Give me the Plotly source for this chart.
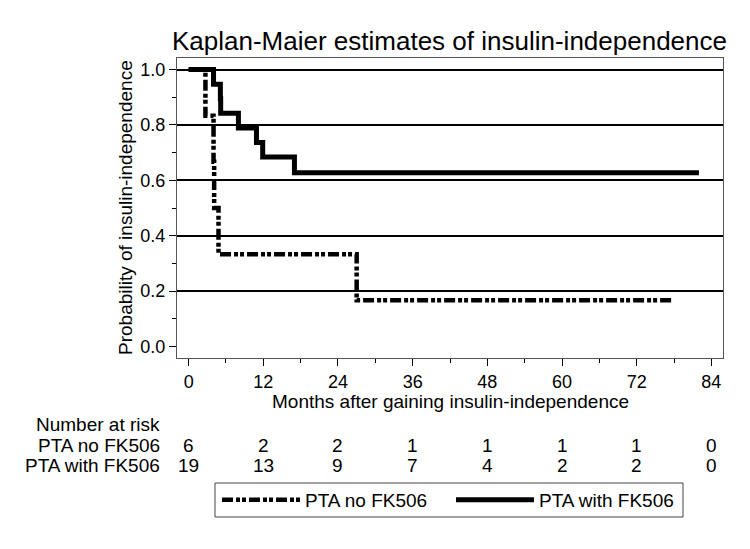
import plotly.graph_objects as go

# ---- data ----
noFK_time = [0, 2.7, 4.0, 4.1, 4.8, 27.0, 77.7]
noFK_surv = [1.0, 0.833, 0.667, 0.5, 0.333, 0.167, 0.167]
FK_time = [0, 4.0, 5.1, 5.15, 8.0, 10.9, 11.9, 17.0, 82.0]
FK_surv = [1.0, 0.947, 0.895, 0.842, 0.789, 0.737, 0.684, 0.627, 0.627]

risk_times = [0, 12, 24, 36, 48, 60, 72, 84]
risk_noFK = [6, 2, 2, 1, 1, 1, 1, 0]
risk_FK = [19, 13, 9, 7, 4, 2, 2, 0]

FONT = "Liberation Sans, Arial, sans-serif"

# page body has an 8px margin; compensate so the picture lines up with the window
OFF = 8
W, H = 750 - OFF, 549 - OFF
L, R, T, B = 177 - OFF, 27, 58 - OFF, 191
pw, ph = W - L - R, H - T - B

def px(rx):
    return (rx - OFF - L) / pw

def py(ry):
    return (H - B - (ry - OFF)) / ph

fig = go.Figure()
fig.add_trace(go.Scatter(
    x=noFK_time, y=noFK_surv, mode="lines", line_shape="hv",
    name="PTA no FK506",
    line=dict(color="black", width=4.5, dash="11px,3px,4px,2px,4px,3px"),
))
fig.add_trace(go.Scatter(
    x=FK_time, y=FK_surv, mode="lines", line_shape="hv",
    name="PTA with FK506",
    line=dict(color="black", width=5),
))

annotations = []
annotations.append(dict(text="Kaplan-Maier estimates of insulin-independence",
                        x=px(449), y=py(41), xref="paper", yref="paper",
                        xanchor="center", yanchor="middle", showarrow=False,
                        font=dict(size=26, color="black", family=FONT)))
annotations.append(dict(text="Probability of insulin-independence",
                        x=px(125), y=py(208), xref="paper", yref="paper",
                        xanchor="center", yanchor="middle", showarrow=False, textangle=-90,
                        font=dict(size=19, color="black", family=FONT)))
annotations.append(dict(text="Months after gaining insulin-independence",
                        x=px(450), y=py(401), xref="paper", yref="paper",
                        xanchor="center", yanchor="middle", showarrow=False,
                        font=dict(size=19, color="black", family=FONT)))
row_labels = [("Number at risk", 424), ("PTA no FK506", 445), ("PTA with FK506", 466)]
for txt, yy in row_labels:
    annotations.append(dict(text=txt, x=px(162), y=py(yy),
                            xref="paper", yref="paper", xanchor="right", yanchor="middle",
                            showarrow=False, font=dict(size=19, color="black", family=FONT)))
for vals, yy in [(risk_noFK, 445), (risk_FK, 466)]:
    for t, v in zip(risk_times, vals):
        annotations.append(dict(text=str(v), x=t, y=py(yy), xref="x", yref="paper",
                                xanchor="center", yanchor="middle", showarrow=False,
                                font=dict(size=19, color="black", family=FONT)))

shapes = [dict(type="rect", xref="paper", yref="paper",
               x0=px(215), x1=px(683), y0=py(483), y1=py(517),
               line=dict(color="#444", width=1), fillcolor="rgba(0,0,0,0)")]

fig.update_layout(
    width=W, height=H,
    margin=dict(l=L, r=R, t=T, b=B),
    paper_bgcolor="white", plot_bgcolor="white",
    font=dict(family=FONT, color="black"),
    showlegend=True,
    legend=dict(orientation="h", x=px(217), y=py(500),
                xanchor="left", yanchor="middle", itemwidth=78,
                bgcolor="rgba(0,0,0,0)", borderwidth=0,
                font=dict(size=19, color="black", family=FONT),
                entrywidth=141, entrywidthmode="pixels"),
    annotations=annotations,
    shapes=shapes,
    xaxis=dict(range=[-1.87, 85.87], tickmode="array", tickvals=risk_times,
               ticktext=[str(t) for t in risk_times],
               ticks="outside", ticklen=7, tickwidth=1, tickcolor="black",
               minor=dict(dtick=6, tick0=0, ticks="outside", ticklen=4, tickcolor="black", showgrid=False),
               showgrid=False, zeroline=False, showline=True, mirror=True,
               linecolor="#555", linewidth=1,
               tickfont=dict(size=18, color="black", family=FONT), ticklabelstandoff=0),
    yaxis=dict(range=[-0.042, 1.042], tick0=0, dtick=0.2, tickformat=".1f",
               ticks="outside", ticklen=7, tickwidth=1, tickcolor="black",
               minor=dict(dtick=0.1, ticks="outside", ticklen=4, tickcolor="black", showgrid=False),
               showgrid=True, gridcolor="black", gridwidth=1.5,
               zeroline=True, zerolinecolor="rgba(0,0,0,0)",
               showline=True, mirror=True, linecolor="#555", linewidth=1,
               tickfont=dict(size=18, color="black", family=FONT)),
)

fig.write_html("out.html")
